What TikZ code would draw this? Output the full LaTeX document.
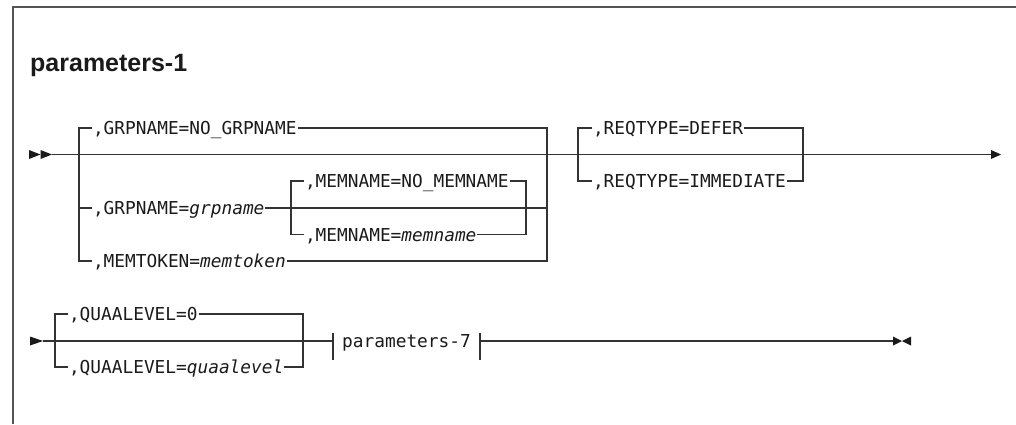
\documentclass[tikz,border=0pt]{standalone}
\usepackage{fontspec}
\setmainfont{Liberation Sans}
\newfontfamily\monof{DejaVu Sans Mono}
\definecolor{lnc}{HTML}{333333}
\definecolor{txc}{HTML}{1A1A1A}
\definecolor{brd}{HTML}{555555}
\begin{document}
\begin{tikzpicture}[x=1pt,y=-1pt,
  rail/.style={draw=lnc,line width=1.3pt},
  tipfill/.style={fill=txc},
  opt/.style={font=\monof\fontsize{17.8}{20}\selectfont,text=txc,inner xsep=0pt,inner ysep=0pt,outer xsep=1pt,outer ysep=0pt,text height=13pt,text depth=0pt,anchor=west},
  frag/.style={opt,anchor=center,outer xsep=0pt},
  titlestyle/.style={font=\bfseries\fontsize{25}{30}\selectfont,text=txc,anchor=base west,inner sep=0pt}]
\useasboundingbox (0,0) rectangle (1016,424);
% frame
\draw[draw=brd,line width=1.3pt] (13,424) -- (13,7) -- (1016,7);
% title
\node[titlestyle] (title) at (30,71) {parameters-1};

% ---------- row 1 ----------
\coordinate (r1s) at (52,154.5);
\coordinate (r1e) at (991,154.5);
\fill[tipfill] (29,150) -- (40.5,154.5) -- (29,159) -- cycle;
\fill[tipfill] (40.5,150) -- (52,154.5) -- (40.5,159) -- cycle;
\fill[tipfill] (991,150) -- (1001,154.5) -- (991,159) -- cycle;
\draw[rail] (r1s) -- (r1e);

% bracket GRPNAME / MEMTOKEN
\node[opt] (g0) at (92,128) {,GRPNAME=NO\_GRPNAME};
\node[opt] (g1) at (92,208) {,GRPNAME=\textit{grpname}};
\node[opt] (g2) at (92,261) {,MEMTOKEN=\textit{memtoken}};
\coordinate (aL0) at (79,128);
\coordinate (aL1) at (79,208);
\coordinate (aL2) at (79,261);
\coordinate (aR0) at (547,128);
\coordinate (aR1) at (547,208);
\coordinate (aR2) at (547,261);
\draw[rail] (g0.west) -- (aL0) -- (aL2) -- (g2.west);
\draw[rail] (aL1) -- (g1.west);
\draw[rail] (g0.east) -- (aR0) -- (aR2) -- (g2.east);
\draw[rail] (g1.east) -- (aR1);

% inner bracket MEMNAME
\node[opt] (m0) at (304,181) {,MEMNAME=NO\_MEMNAME};
\node[opt] (m1) at (304,234.5) {,MEMNAME=\textit{memname}};
\coordinate (bL0) at (291,181);
\coordinate (bL1) at (291,234.5);
\coordinate (bR0) at (526,181);
\coordinate (bR1) at (526,234.5);
\draw[rail] (m0.west) -- (bL0) -- (bL1) -- (m1.west);
\draw[rail] (m0.east) -- (bR0) -- (bR1) -- (m1.east);

% bracket REQTYPE
\node[opt] (q0) at (592,128) {,REQTYPE=DEFER};
\node[opt] (q1) at (592,181) {,REQTYPE=IMMEDIATE};
\coordinate (cL0) at (578,128);
\coordinate (cL1) at (578,181);
\coordinate (cR0) at (803,128);
\coordinate (cR1) at (803,181);
\draw[rail] (q0.west) -- (cL0) -- (cL1) -- (q1.west);
\draw[rail] (q0.east) -- (cR0) -- (cR1) -- (q1.east);

% ---------- row 2 ----------
\coordinate (r2s) at (43,341);
\fill[tipfill] (30,336.5) -- (43,341) -- (30,345.5) -- cycle;
\node[opt] (l0) at (68,314) {,QUAALEVEL=0};
\node[opt] (l1) at (68,367) {,QUAALEVEL=\textit{quaalevel}};
\coordinate (dL0) at (55,314);
\coordinate (dL1) at (55,367);
\coordinate (dR0) at (303,314);
\coordinate (dR1) at (303,367);
\draw[rail] (l0.west) -- (dL0) -- (dL1) -- (l1.west);
\draw[rail] (l0.east) -- (dR0) -- (dR1) -- (l1.east);

\coordinate (tL) at (333,341);
\coordinate (tR) at (480,341);
\node[frag] (p7) at (406.5,341) {parameters-7};
\draw[rail] (r2s) -- (tL);
\draw[rail] (333,333) -- (333,360);
\draw[rail] (480,333) -- (480,360);
\coordinate (r2e) at (893,341);
\draw[rail] (tR) -- (r2e);
\fill[tipfill] (893,336.5) -- (902,341) -- (893,345.5) -- cycle;
\fill[tipfill] (911,336.5) -- (902,341) -- (911,345.5) -- cycle;
\end{tikzpicture}
\end{document}
